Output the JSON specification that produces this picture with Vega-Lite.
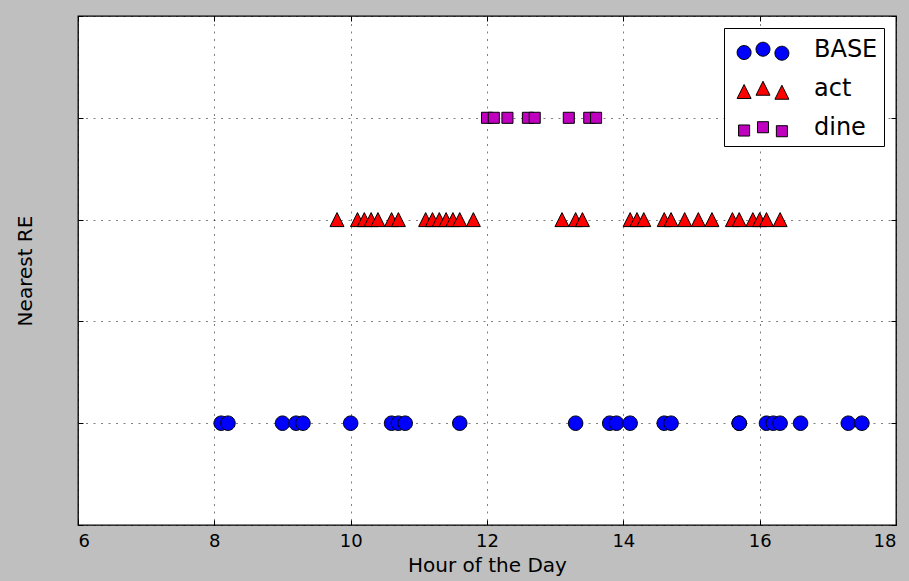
{
  "$schema": "https://vega.github.io/schema/vega-lite/v6.json",
  "width": 818,
  "height": 509,
  "autosize": {"type": "none"},
  "padding": {"left": 78, "top": 16, "right": 13, "bottom": 56},
  "background": "#bfbfbf",
  "config": {
    "font": "DejaVu Sans",
    "view": {"stroke": "#000", "strokeWidth": 1.3, "fill": "#ffffff"},
    "axis": {
      "domain": false,
      "tickSize": -5,
      "tickColor": "#000",
      "tickWidth": 1,
      "gridColor": "#000",
      "gridOpacity": 0.5,
      "gridDash": [2, 5.5],
      "gridWidth": 1,
      "labelFont": "DejaVu Sans",
      "labelFontSize": 18,
      "labelColor": "#000",
      "titleFont": "DejaVu Sans",
      "titleFontSize": 20,
      "titleFontWeight": "normal",
      "titleColor": "#000"
    },
    "legend": {
      "orient": "top-right",
      "offset": 12,
      "fillColor": "#ffffff",
      "strokeColor": "#000000",
      "padding": 6,
      "cornerRadius": 0,
      "symbolSize": 196,
      "symbolOpacity": 1,
      "symbolStrokeColor": "#000",
      "symbolStrokeWidth": 1,
      "labelOffset": 60,
      "labelFont": "DejaVu Sans",
      "labelFontSize": 24,
      "labelColor": "#000",
      "rowPadding": 14,
      "labelLimit": 250,
      "titleFontSize": 1,
      "titlePadding": 3
    }
  },
  "data": {
    "values": [
      {"hour": 8.1, "activity": "BASE", "re": 1},
      {"hour": 8.2, "activity": "BASE", "re": 1},
      {"hour": 9.0, "activity": "BASE", "re": 1},
      {"hour": 9.2, "activity": "BASE", "re": 1},
      {"hour": 9.3, "activity": "BASE", "re": 1},
      {"hour": 10.0, "activity": "BASE", "re": 1},
      {"hour": 10.6, "activity": "BASE", "re": 1},
      {"hour": 10.7, "activity": "BASE", "re": 1},
      {"hour": 10.8, "activity": "BASE", "re": 1},
      {"hour": 11.6, "activity": "BASE", "re": 1},
      {"hour": 13.3, "activity": "BASE", "re": 1},
      {"hour": 13.8, "activity": "BASE", "re": 1},
      {"hour": 13.9, "activity": "BASE", "re": 1},
      {"hour": 14.1, "activity": "BASE", "re": 1},
      {"hour": 14.6, "activity": "BASE", "re": 1},
      {"hour": 14.7, "activity": "BASE", "re": 1},
      {"hour": 15.7, "activity": "BASE", "re": 1},
      {"hour": 15.7, "activity": "BASE", "re": 1},
      {"hour": 16.1, "activity": "BASE", "re": 1},
      {"hour": 16.2, "activity": "BASE", "re": 1},
      {"hour": 16.3, "activity": "BASE", "re": 1},
      {"hour": 16.6, "activity": "BASE", "re": 1},
      {"hour": 17.3, "activity": "BASE", "re": 1},
      {"hour": 17.5, "activity": "BASE", "re": 1},
      {"hour": 9.8, "activity": "act", "re": 3},
      {"hour": 10.1, "activity": "act", "re": 3},
      {"hour": 10.2, "activity": "act", "re": 3},
      {"hour": 10.3, "activity": "act", "re": 3},
      {"hour": 10.4, "activity": "act", "re": 3},
      {"hour": 10.6, "activity": "act", "re": 3},
      {"hour": 10.7, "activity": "act", "re": 3},
      {"hour": 11.1, "activity": "act", "re": 3},
      {"hour": 11.2, "activity": "act", "re": 3},
      {"hour": 11.3, "activity": "act", "re": 3},
      {"hour": 11.4, "activity": "act", "re": 3},
      {"hour": 11.5, "activity": "act", "re": 3},
      {"hour": 11.6, "activity": "act", "re": 3},
      {"hour": 11.8, "activity": "act", "re": 3},
      {"hour": 13.1, "activity": "act", "re": 3},
      {"hour": 13.3, "activity": "act", "re": 3},
      {"hour": 13.4, "activity": "act", "re": 3},
      {"hour": 14.1, "activity": "act", "re": 3},
      {"hour": 14.2, "activity": "act", "re": 3},
      {"hour": 14.3, "activity": "act", "re": 3},
      {"hour": 14.6, "activity": "act", "re": 3},
      {"hour": 14.7, "activity": "act", "re": 3},
      {"hour": 14.9, "activity": "act", "re": 3},
      {"hour": 15.1, "activity": "act", "re": 3},
      {"hour": 15.3, "activity": "act", "re": 3},
      {"hour": 15.6, "activity": "act", "re": 3},
      {"hour": 15.7, "activity": "act", "re": 3},
      {"hour": 15.9, "activity": "act", "re": 3},
      {"hour": 16.0, "activity": "act", "re": 3},
      {"hour": 16.1, "activity": "act", "re": 3},
      {"hour": 16.3, "activity": "act", "re": 3},
      {"hour": 12.0, "activity": "dine", "re": 4},
      {"hour": 12.1, "activity": "dine", "re": 4},
      {"hour": 12.3, "activity": "dine", "re": 4},
      {"hour": 12.6, "activity": "dine", "re": 4},
      {"hour": 12.7, "activity": "dine", "re": 4},
      {"hour": 13.2, "activity": "dine", "re": 4},
      {"hour": 13.5, "activity": "dine", "re": 4},
      {"hour": 13.6, "activity": "dine", "re": 4}
    ]
  },
  "layer": [
    {
      "mark": {"type": "point", "opacity": 0},
      "encoding": {
        "x": {"field": "hour", "type": "quantitative", "scale": {"domain": [6, 18], "nice": false, "zero": false},
              "axis": {"orient": "top", "values": [6, 8, 10, 12, 14, 16, 18], "labels": false, "grid": false, "title": null}},
        "y": {"field": "re", "type": "quantitative", "scale": {"domain": [0, 5], "nice": false},
              "axis": {"orient": "right", "values": [0, 1, 2, 3, 4, 5], "labels": false, "grid": false, "title": null}}
      }
    },
    {
      "transform": [{"filter": "datum.activity === 'BASE'"}],
      "mark": {"type": "point", "filled": true, "opacity": 1, "fill": "#0000ff", "stroke": "#000", "strokeWidth": 1, "size": 210, "shape": "M-1,0A1,1,0,1,0,1,0A1,1,0,1,0,-1,0Z"},
      "encoding": {
        "x": {"field": "hour", "type": "quantitative", "scale": {"domain": [6, 18], "nice": false, "zero": false},
              "axis": {"orient": "bottom", "values": [6, 8, 10, 12, 14, 16, 18], "format": "d", "title": "Hour of the Day", "grid": true, "labelPadding": 12, "titlePadding": 5}},
        "y": {"field": "re", "type": "quantitative", "scale": {"domain": [0, 5], "nice": false},
              "axis": {"orient": "left", "values": [0, 1, 2, 3, 4, 5], "labels": false, "title": "Nearest RE", "grid": true, "titlePadding": 42}}
      }
    },
    {
      "transform": [{"filter": "datum.activity === 'act'"}],
      "mark": {"type": "point", "filled": true, "opacity": 1, "fill": "#ff0000", "stroke": "#000", "strokeWidth": 1, "size": 196, "shape": "M0,-1L1,1L-1,1Z"},
      "encoding": {
        "x": {"field": "hour", "type": "quantitative", "axis": null},
        "y": {"field": "re", "type": "quantitative", "axis": null}
      }
    },
    {
      "transform": [{"filter": "datum.activity === 'dine'"}],
      "mark": {"type": "point", "filled": true, "opacity": 1, "fill": "#bf00bf", "stroke": "#000", "strokeWidth": 1, "size": 196, "shape": "M-0.79,-0.79L0.79,-0.79L0.79,0.79L-0.79,0.79Z"},
      "encoding": {
        "x": {"field": "hour", "type": "quantitative", "axis": null},
        "y": {"field": "re", "type": "quantitative", "axis": null}
      }
    },
    {
      "transform": [{"filter": "datum.re > 100"}],
      "mark": {"type": "point", "filled": true, "opacity": 1, "stroke": "#000", "strokeWidth": 1, "size": 196},
      "encoding": {
        "x": {"field": "hour", "type": "quantitative", "axis": null},
        "y": {"field": "re", "type": "quantitative", "axis": null},
        "color": {
          "field": "activity", "type": "nominal",
          "scale": {"domain": ["BASE", "act", "dine"], "range": ["#0000ff", "#ff0000", "#bf00bf"]},
          "legend": {"title": " "}
        },
        "shape": {
          "field": "activity", "type": "nominal",
          "scale": {"domain": ["BASE", "act", "dine"], "range": [
            "M-0.7,0.36A1,1,0,1,0,1.3,0.36A1,1,0,1,0,-0.7,0.36Z M2,-0.11A1,1,0,1,0,4,-0.11A1,1,0,1,0,2,-0.11Z M4.7,0.46A1,1,0,1,0,6.7,0.46A1,1,0,1,0,4.7,0.46Z",
            "M0.3,-0.64L1.3,1.36L-0.7,1.36Z M3,-1.11L4,0.89L2,0.89Z M5.7,-0.54L6.7,1.46L4.7,1.46Z",
            "M-0.49,-0.43L1.09,-0.43L1.09,1.15L-0.49,1.15Z M2.21,-0.9L3.79,-0.9L3.79,0.68L2.21,0.68Z M4.91,-0.33L6.49,-0.33L6.49,1.25L4.91,1.25Z"
          ]},
          "legend": null
        }
      }
    }
  ],
  "resolve": {"axis": {"x": "independent", "y": "independent"}}
}
